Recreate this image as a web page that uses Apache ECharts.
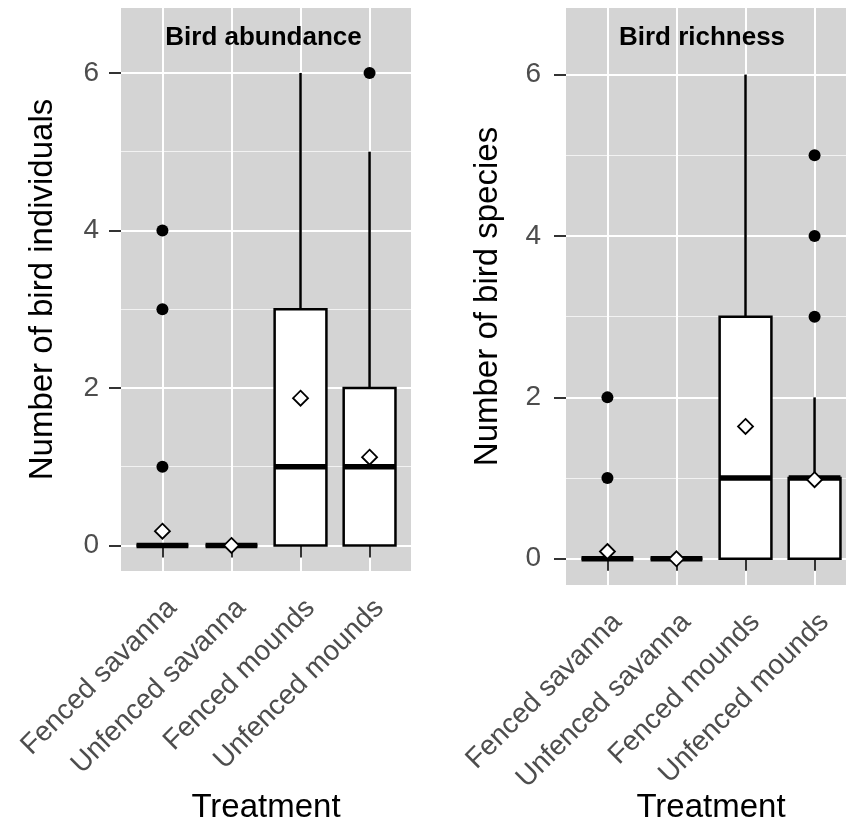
<!DOCTYPE html>
<html>
<head>
<meta charset="utf-8">
<script src="https://cdn.jsdelivr.net/npm/echarts@6/dist/echarts.min.js"></script>
<style>html,body{margin:0;padding:0;background:#fff;}#chart{width:846px;height:824px;}</style>
</head>
<body>
<div id="chart"></div>
<script>
// ---- data ----
const categories = ['Fenced savanna', 'Unfenced savanna', 'Fenced mounds', 'Unfenced mounds'];
const categoryPositions = [1, 2, 3, 4];
const yTicks = [0, 2, 4, 6];
const yMinorTicks = [1, 3, 5];

// [lower whisker, Q1, median, Q3, upper whisker]
const abundanceBox = [[0, 0, 0, 0, 0], [0, 0, 0, 0, 0], [0, 0, 1, 3, 6], [0, 0, 1, 2, 5]];
const abundanceOutliers = [[1, 4], [1, 3], [1, 1], [4, 6]];
const abundanceMeans = [0.18, 0, 1.87, 1.12];

const richnessBox = [[0, 0, 0, 0, 0], [0, 0, 0, 0, 0], [0, 0, 1, 3, 6], [0, 0, 1, 1, 2]];
const richnessOutliers = [[1, 2], [1, 1], [4, 3], [4, 4], [4, 5]];
const richnessMeans = [0.09, 0, 1.64, 0.98];

const panelTitles = ['Bird abundance', 'Bird richness'];
const yTitles = ['Number of bird individuals', 'Number of bird species'];
const xTitle = 'Treatment';

// ---- styling ----
const FONT = '"Liberation Sans", Arial, Helvetica, sans-serif';
const BG = '#d4d4d4';
const BOX_W = 0.75;

function boxData(box) { return box.map((b, i) => [categoryPositions[i]].concat(b)); }
function meanData(m) { return m.map((v, i) => [categoryPositions[i], v]); }

function renderBox(params, api) {
  const x = api.value(0);
  const lo = api.coord([x, api.value(1)]);
  const q1 = api.coord([x, api.value(2)]);
  const med = api.coord([x, api.value(3)]);
  const q3 = api.coord([x, api.value(4)]);
  const hi = api.coord([x, api.value(5)]);
  const half = api.size([BOX_W, 0])[0] / 2;
  const black = { stroke: '#000', lineWidth: 2.5, fill: null };
  return {
    type: 'group',
    children: [
      { type: 'line', shape: { x1: q3[0], y1: q3[1], x2: hi[0], y2: hi[1] }, style: black },
      { type: 'line', shape: { x1: lo[0], y1: lo[1], x2: q1[0], y2: q1[1] }, style: black },
      { type: 'rect', shape: { x: q1[0] - half, y: q3[1], width: half * 2, height: q1[1] - q3[1] },
        style: { fill: '#fff', stroke: '#000', lineWidth: 2.5 } },
      { type: 'line', shape: { x1: med[0] - half, y1: med[1], x2: med[0] + half, y2: med[1] },
        style: { stroke: '#000', lineWidth: 5.5 } }
    ]
  };
}

function xAxisFor(gridIndex, nameGap) {
  return {
    type: 'value', gridIndex: gridIndex, min: 0.4, max: 4.6,
    name: xTitle, nameLocation: 'middle', nameGap: nameGap, nameMoveOverlap: false,
    nameTextStyle: { fontFamily: FONT, fontSize: 33, color: '#000' },
    axisLine: { show: false },
    axisTick: { show: true, customValues: categoryPositions, length: 12, lineStyle: { color: '#333', width: 2 } },
    axisLabel: {
      show: true, customValues: categoryPositions, rotate: 45, margin: 23,
      verticalAlign: 'top',
      fontFamily: FONT, fontSize: 28, color: '#4d4d4d',
      formatter: v => categories[Math.round(v) - 1]
    },
    splitLine: { show: true, lineStyle: { color: '#fff', width: 2 } }
  };
}

function yAxisFor(gridIndex, name, margin) {
  return {
    type: 'value', gridIndex: gridIndex, min: -0.325, max: 6.825,
    name: name, nameLocation: 'middle', nameGap: 62,
    nameTextStyle: { fontFamily: FONT, fontSize: 33, color: '#000' },
    axisLine: { show: false },
    axisTick: { show: true, customValues: yTicks, length: 12, lineStyle: { color: '#333', width: 2 } },
    axisLabel: { show: true, customValues: yTicks, margin: margin, fontFamily: FONT, fontSize: 28, color: '#4d4d4d' },
    splitLine: { show: true, lineStyle: { color: '#fff', width: 2 } }
  };
}

function yMinorAxisFor(gridIndex) {
  return {
    type: 'value', gridIndex: gridIndex, min: -0.325, max: 6.825, position: 'left',
    axisLine: { show: false },
    axisTick: { show: false, customValues: yMinorTicks },
    axisLabel: { show: false, customValues: yMinorTicks },
    splitLine: { show: true, lineStyle: { color: '#f2f2f2', width: 1 } }
  };
}

function seriesFor(idx, box, outliers, means) {
  return [
    {
      type: 'custom', xAxisIndex: idx, yAxisIndex: idx * 2, z: 3,
      renderItem: renderBox, data: boxData(box), encode: { x: 0, y: [1, 2, 3, 4, 5] }, clip: false
    },
    {
      type: 'scatter', xAxisIndex: idx, yAxisIndex: idx * 2, z: 4,
      symbol: 'circle', symbolSize: 12, itemStyle: { color: '#000', opacity: 1 }, data: outliers
    },
    {
      type: 'scatter', xAxisIndex: idx, yAxisIndex: idx * 2, z: 5,
      symbol: 'diamond', symbolSize: [15, 15],
      itemStyle: { color: '#fff', borderColor: '#000', borderWidth: 1.8, opacity: 1 }, data: meanData(means)
    }
  ];
}

const chart = echarts.init(document.getElementById('chart'), null, { renderer: 'canvas' });
chart.setOption({
  animation: false,
  backgroundColor: '#fff',
  grid: [
    { left: 121, top: 8, width: 290, height: 563, show: true, backgroundColor: BG, borderWidth: 0,
      containLabel: false, outerBoundsMode: 'none' },
    { left: 566, top: 8, width: 290, height: 577, show: true, backgroundColor: BG, borderWidth: 0,
      containLabel: false, outerBoundsMode: 'none' }
  ],
  xAxis: [xAxisFor(0, 220), xAxisFor(1, 206)],
  yAxis: [
    yAxisFor(0, yTitles[0], 22), yMinorAxisFor(0),
    yAxisFor(1, yTitles[1], 25), yMinorAxisFor(1)
  ],
  graphic: [
    { type: 'text', x: 263.5, y: 38, z: 10,
      style: { text: panelTitles[0], x: 0, y: 0, textAlign: 'center', textVerticalAlign: 'middle',
        font: 'bold 26px ' + FONT, fill: '#000' } },
    { type: 'text', x: 702, y: 38, z: 10,
      style: { text: panelTitles[1], x: 0, y: 0, textAlign: 'center', textVerticalAlign: 'middle',
        font: 'bold 26px ' + FONT, fill: '#000' } }
  ],
  series: [].concat(
    seriesFor(0, abundanceBox, abundanceOutliers, abundanceMeans),
    seriesFor(1, richnessBox, richnessOutliers, richnessMeans)
  )
});
</script>
</body>
</html>
